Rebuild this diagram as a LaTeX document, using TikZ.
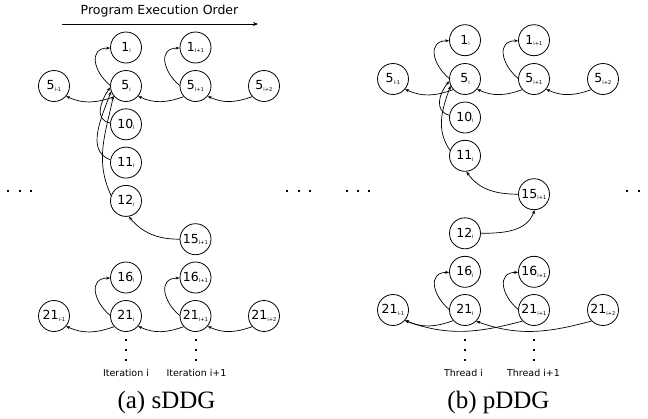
\documentclass[tikz,border=0pt]{standalone}
\usepackage{fontspec}
\setmainfont{DejaVu Sans}
\newfontfamily\capfont{Liberation Serif}
\usetikzlibrary{arrows.meta}

% statement label: number with a small index
\newcommand{\stm}[2]{{\fontsize{12.5}{12.5}\selectfont #1}{\fontsize{5.2}{5.2}\selectfont\raisebox{-1.5pt}{#2}}}

\begin{document}
\begin{tikzpicture}[x=1pt,y=-1pt,
  st/.style={circle,draw,line width=0.8pt,minimum size=31pt,inner sep=0pt},
  dep/.style={line width=0.7pt,-{Stealth[length=4pt,width=3pt]}},
  up/.style={dep,out=140,in=180,looseness=1.5},
  dotc/.style={fill=black,minimum size=2pt,inner sep=0pt,rectangle},
  lbl/.style={font=\fontsize{9.5}{9.5}\selectfont},
  subcap/.style={font=\capfont\fontsize{25}{25}\selectfont}]
\useasboundingbox (0,0) rectangle (648,418);

% ---------------- (a) sDDG ----------------
\node[font=\fontsize{12.5}{12.5}\selectfont] (title) at (159.5,11) {Program Execution Order};
\coordinate (ordS) at (62,24);
\coordinate (ordE) at (258,24);
\draw[line width=0.8pt,-{Stealth[length=5pt,width=4pt]}] (ordS) -- (ordE);

\node[st] (a1i)   at (126,47.5)  {\stm{1}{i}};
\node[st] (a1ip)  at (195.5,47.5){\stm{1}{i+1}};
\node[st] (a5im)  at (54,86)     {\stm{5}{i-1}};
\node[st] (a5i)   at (126,86)    {\stm{5}{i}};
\node[st] (a5ip)  at (195.5,86)  {\stm{5}{i+1}};
\node[st] (a5ipp) at (264,86)    {\stm{5}{i+2}};
\node[st] (a10i)  at (126,124.3) {\stm{10}{i}};
\node[st] (a11i)  at (126,162.6) {\stm{11}{i}};
\node[st] (a12i)  at (126,200.9) {\stm{12}{i}};
\node[st] (a15ip) at (195.5,239.2){\stm{15}{i+1}};
\node[st] (a16i)  at (126,277.5) {\stm{16}{i}};
\node[st] (a16ip) at (195.5,277.5){\stm{16}{i+1}};
\node[st] (a21im) at (54,316)    {\stm{21}{i-1}};
\node[st] (a21i)  at (126,316)   {\stm{21}{i}};
\node[st] (a21ip) at (195.5,316) {\stm{21}{i+1}};
\node[st] (a21ipp)at (264,316)   {\stm{21}{i+2}};

\draw[up]  (a5i.178)  to (a1i.182);
\draw[up]  (a5ip.178) to (a1ip.182);
\draw[dep] (a5i.222)  to[out=200,in=-25] (a5im.-40);
\draw[dep] (a5ip.222) to[out=200,in=-25] (a5i.-40);
\draw[dep] (a5ipp.222)to[out=200,in=-25] (a5ip.-40);
\draw[dep] (a10i.175) to[out=170,in=235,looseness=1.2] (a5i.185);
\draw[dep] (a11i.170) to[out=160,in=250] (a5i.200);
\draw[dep] (a12i.160) to[out=115,in=258] (a5i.218);
\draw[dep] (a15ip.180)to[out=180,in=-50] (a12i.-80);
\draw[up]  (a21i.178) to (a16i.182);
\draw[up]  (a21ip.178)to (a16ip.182);
\draw[dep] (a21i.222) to[out=200,in=-25] (a21im.-40);
\draw[dep] (a21ip.222)to[out=200,in=-25] (a21i.-40);
\draw[dep] (a21ipp.222)to[out=200,in=-25] (a21ip.-40);

\foreach \yy [count=\k] in {340,350,360}{
  \node[dotc] (ad\k) at (126,\yy) {};
  \node[dotc] (adp\k) at (195.5,\yy) {};
}
\node[lbl] (ait)  at (126,373)   {Iteration i};
\node[lbl] (aitp) at (196.5,373) {Iteration i+1};
\node[subcap] (acap) at (166.5,402) {(a) sDDG};

% ---------------- (b) pDDG ----------------
\node[st] (b1i)   at (465,40.2)  {\stm{1}{i}};
\node[st] (b1ip)  at (534,40.2)  {\stm{1}{i+1}};
\node[st] (b5im)  at (393,79)    {\stm{5}{i-1}};
\node[st] (b5i)   at (465,79)    {\stm{5}{i}};
\node[st] (b5ip)  at (534,79)    {\stm{5}{i+1}};
\node[st] (b5ipp) at (603,79)    {\stm{5}{i+2}};
\node[st] (b10i)  at (465,117.5) {\stm{10}{i}};
\node[st] (b11i)  at (465,155.8) {\stm{11}{i}};
\node[st] (b15ip) at (534,194.2) {\stm{15}{i+1}};
\node[st] (b12i)  at (465,233.3) {\stm{12}{i}};
\node[st] (b16i)  at (465,271.8) {\stm{16}{i}};
\node[st] (b16ip) at (534,271.8) {\stm{16}{i+1}};
\node[st] (b21im) at (393,310)   {\stm{21}{i-1}};
\node[st] (b21i)  at (465,310)   {\stm{21}{i}};
\node[st] (b21ip) at (534,310)   {\stm{21}{i+1}};
\node[st] (b21ipp)at (603,310)   {\stm{21}{i+2}};

\draw[up]  (b5i.178)  to (b1i.182);
\draw[up]  (b5ip.178) to (b1ip.182);
\draw[dep] (b5i.222)  to[out=200,in=-25] (b5im.-40);
\draw[dep] (b5ip.222) to[out=200,in=-25] (b5i.-40);
\draw[dep] (b5ipp.222)to[out=200,in=-25] (b5ip.-40);
\draw[dep] (b10i.172) to[out=165,in=230,looseness=1.2] (b5i.188);
\draw[dep] (b11i.160) to[out=125,in=250] (b5i.205);
\draw[dep] (b15ip.180)to[out=180,in=-55] (b11i.-85);
\draw[dep] (b12i.0)   to[out=0,in=250]   (b15ip.-88);
\draw[up]  (b21i.178) to (b16i.182);
\draw[up]  (b21ip.178)to (b16ip.182);
\draw[dep] (b21i.222) to[out=200,in=-25] (b21im.-40);
\draw[dep] (b21ip.224)to[out=195,in=-20] (b21im.-42);
\draw[dep] (b21ipp.224)to[out=195,in=-20] (b21i.-45);

\foreach \yy [count=\k] in {340,350,360}{
  \node[dotc] (bd\k) at (465,\yy) {};
  \node[dotc] (bdp\k) at (534,\yy) {};
}
\node[lbl] (bth)  at (463.5,373) {Thread i};
\node[lbl] (bthp) at (533.5,373) {Thread i+1};
\node[subcap] (bcap) at (498.5,402) {(b) pDDG};

% continuation dots
\foreach \xx [count=\k] in {8,20,31,287,299,310,347,358,369,627,639}{
  \node[dotc] (el\k) at (\xx,191) {};
}
\end{tikzpicture}
\end{document}
